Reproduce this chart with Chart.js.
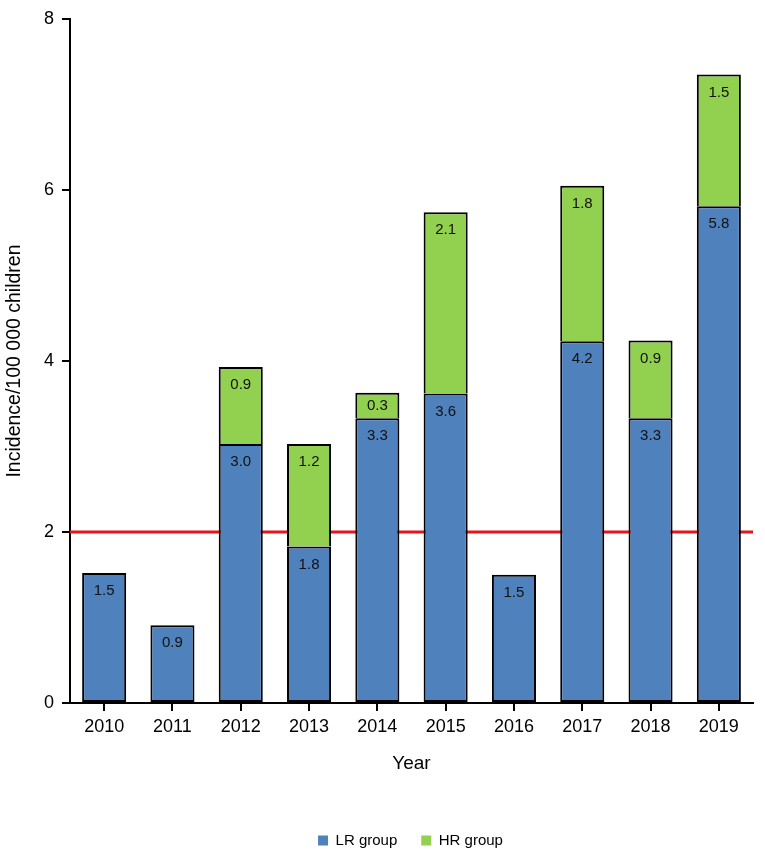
<!DOCTYPE html>
<html>
<head>
<meta charset="utf-8">
<script src="https://cdn.jsdelivr.net/npm/chart.js@4.4.1/dist/chart.umd.min.js"></script>
<style>
    html, body { margin: 0; padding: 0; background: #fff; }
    #chartWrap { width: 765px; height: 858px; }
</style>
</head>
<body>
<div id="chartWrap"><canvas id="incidenceBar"></canvas></div>
<script>
// values
const years = ['2010', '2011', '2012', '2013', '2014', '2015', '2016', '2017', '2018', '2019'];
const lrValues = [1.52, 0.91, 3.03, 1.83, 3.33, 3.62, 1.50, 4.23, 3.33, 5.81];
const hrValues = [null, null, 0.90, 1.20, 0.30, 2.12, null, 1.82, 0.91, 1.54];
const yTicks = [0, 2, 4, 6, 8];
const thresholdValue = 2;

Chart.defaults.font.family = "'Liberation Sans', Arial, sans-serif";
Chart.defaults.color = '#000';

// red reference line, behind the bars
const thresholdLine = {
    id: 'thresholdLine',
    beforeDatasetsDraw(chart) {
        const { ctx, chartArea, scales } = chart;
        const y = scales.y.getPixelForValue(thresholdValue);
        ctx.save();
        ctx.strokeStyle = '#e8141b';
        ctx.lineWidth = 3;
        ctx.beginPath();
        ctx.moveTo(chartArea.left, y);
        ctx.lineTo(chartArea.right, y);
        ctx.stroke();
        ctx.restore();
    }
};

// value labels near the top of each segment
const segmentLabels = {
    id: 'segmentLabels',
    afterDatasetsDraw(chart) {
        const ctx = chart.ctx;
        ctx.save();
        ctx.font = "15px 'Liberation Sans', Arial, sans-serif";
        ctx.fillStyle = '#111';
        ctx.textAlign = 'center';
        ctx.textBaseline = 'middle';
        chart.data.datasets.forEach((ds, i) => {
            chart.getDatasetMeta(i).data.forEach((bar, j) => {
                const v = ds.data[j];
                if (v == null) return;
                const h = bar.base - bar.y;
                ctx.fillText(v.toFixed(1), bar.x, bar.y + Math.min(18, h / 2));
            });
        });
        ctx.restore();
    }
};

// centre the legend under the plot area instead of the whole canvas
const legendUnderPlot = {
    id: 'legendUnderPlot',
    afterLayout(chart) {
        const shift = 34;
        chart.legend.left += shift;
        chart.legend.right += shift;
    }
};

let incidenceBar = new Chart(document.getElementById('incidenceBar'), {
    type: 'bar',
    data: {
        labels: years,
        datasets: [
            {
                label: 'LR group',
                data: lrValues,
                backgroundColor: '#4f81bd',
                borderColor: '#000',
                borderWidth: 2,
                borderSkipped: false,
                categoryPercentage: 1,
                barPercentage: 0.645
            },
            {
                label: 'HR group',
                data: hrValues,
                backgroundColor: '#92d050',
                borderColor: '#000',
                borderWidth: 2,
                // the blue segment below already draws the dividing line
                borderSkipped: 'start',
                categoryPercentage: 1,
                barPercentage: 0.645
            }
        ]
    },
    options: {
        responsive: true,
        maintainAspectRatio: false,
        animation: false,
        layout: {
            padding: { top: 19, right: 12, bottom: 0, left: 0 }
        },
        scales: {
            x: {
                stacked: true,
                grid: {
                    display: true,
                    drawOnChartArea: false,
                    offset: false,
                    tickLength: 8,
                    color: '#000',
                    lineWidth: 2
                },
                border: { display: true, color: '#000', width: 2 },
                ticks: { font: { size: 18 }, padding: 5 },
                title: {
                    display: true,
                    text: 'Year',
                    font: { size: 19 },
                    padding: { top: 4, bottom: 34 }
                },
                afterFit: (scale) => { scale.height = 106; }
            },
            y: {
                stacked: true,
                min: 0,
                max: 8,
                afterBuildTicks: (axis) => { axis.ticks = yTicks.map(v => ({ value: v })); },
                grid: {
                    display: true,
                    drawOnChartArea: false,
                    tickLength: 8,
                    color: '#000',
                    lineWidth: 2
                },
                border: { display: true, color: '#000', width: 2 },
                ticks: { font: { size: 18 }, padding: 8 },
                title: {
                    display: true,
                    text: 'Incidence/100 000 children',
                    font: { size: 19.5 },
                    padding: { top: 3, bottom: 0 }
                },
                afterFit: (scale) => { scale.width = 70; }
            }
        },
        plugins: {
            legend: {
                display: true,
                position: 'bottom',
                align: 'center',
                labels: {
                    boxWidth: 10,
                    boxHeight: 10,
                    padding: 24,
                    font: { size: 15 },
                    generateLabels(chart) {
                        return Chart.defaults.plugins.legend.labels.generateLabels(chart)
                            .map(l => Object.assign(l, { lineWidth: 0, strokeStyle: 'rgba(0,0,0,0)' }));
                    }
                }
            },
            tooltip: { enabled: false }
        }
    },
    plugins: [thresholdLine, segmentLabels, legendUnderPlot]
});
</script>
</body>
</html>
